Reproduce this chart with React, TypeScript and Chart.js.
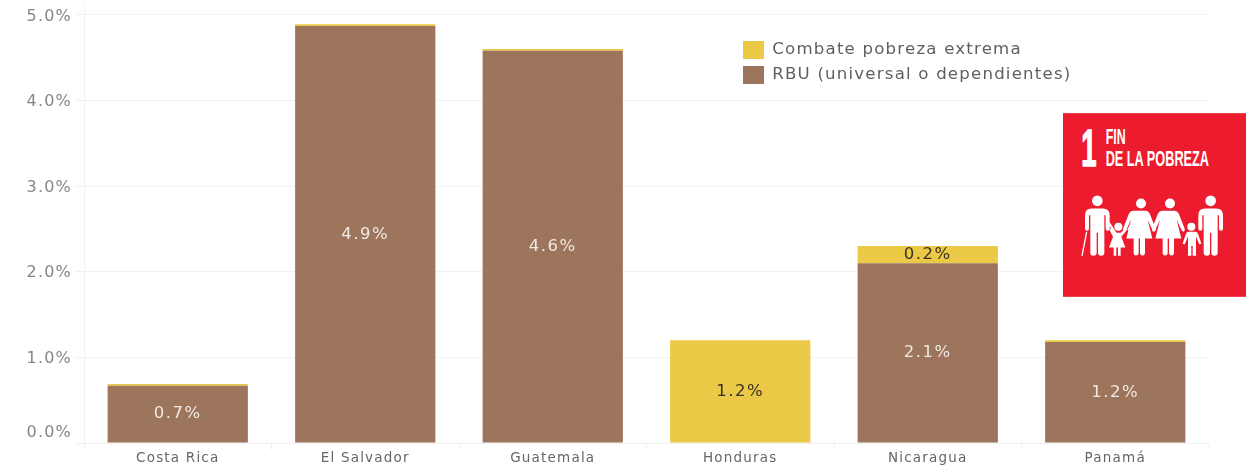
import React, { useEffect, useRef } from "react";
import { Chart, registerables } from "chart.js";

Chart.register(...registerables);

const countries = ["Costa Rica", "El Salvador", "Guatemala", "Honduras", "Nicaragua", "Panamá"];
const rbuValues = [0.67, 4.87, 4.58, 0, 2.1, 1.18];
const extremeValues = [0.02, 0.02, 0.02, 1.2, 0.2, 0.02];
const rbuLabel = "RBU (universal o dependientes)";
const extremeLabel = "Combate pobreza extrema";
const FONT = "'DejaVu Sans', sans-serif";

const spacing: any = {
  id: "spacing",
  beforeDraw(chart: any) {
    chart.ctx.letterSpacing = "1.2px";
  },
};

const moveLegend: any = {
  id: "moveLegend",
  afterLayout(chart: any) {
    const l = chart.legend;
    l.left = 736;
    l.top = 34;
    l.right = 736 + 400;
    l.bottom = 34 + 100;
  },
};

const barLabels: any = {
  id: "barLabels",
  afterDatasetsDraw(chart: any) {
    const ctx = chart.ctx;
    ctx.save();
    ctx.font = `16.5px ${FONT}`;
    ctx.letterSpacing = "1.5px";
    ctx.textAlign = "center";
    ctx.textBaseline = "middle";
    chart.data.datasets.forEach((ds: any, di: number) => {
      chart.getDatasetMeta(di).data.forEach((bar: any, i: number) => {
        const v = ds.data[i];
        if (v < 0.1) return;
        ctx.fillStyle = di === 1 ? "#3b3222" : "#efe9e4";
        ctx.fillText(v.toFixed(1) + "%", bar.x, (bar.y + bar.base) / 2);
      });
    });
    ctx.restore();
  },
};

function SdgTile() {
  const w = "#fff";
  const man = (x: number, cane: boolean) => (
    <g fill={w}>
      <circle cx={x} cy={302} r={16} />
      <path
        d={`M${x - 37} 345 q0 -20 20 -20 h34 q20 0 20 20 v40 q0 7 -6 7 q-6 0 -6 -7 v-40 h-4 v113 q0 9 -9.5 9 q-9.5 0 -9.5 -9 v-60 h-4 v60 q0 9 -9.5 9 q-9.5 0 -9.5 -9 v-113 h-4 v40 q0 7 -6 7 q-6 0 -6 -7 z`}
      />
      {cane ? <path d={`M${x - 32} 395 L${x - 46} 467`} stroke={w} strokeWidth={4} /> : null}
    </g>
  );
  const woman = (x: number) => (
    <g fill={w}>
      <circle cx={x} cy={310} r={15} />
      <path
        d={`M${x - 14} 332 h28 q8 0 12 8 l18 46 q2 7 -3 8 q-5 1 -7 -5 l-14 -30 l14 56 h-22 v42 q0 9 -7 9 q-8 0 -8 -9 v-42 h-4 v42 q0 9 -8 9 q-7 0 -7 -9 v-42 h-22 l14 -56 l-14 30 q-2 6 -7 5 q-5 -1 -3 -8 l18 -46 q4 -8 12 -8 z`}
      />
    </g>
  );
  return (
    <svg
      viewBox="39 39 549 551"
      width={183}
      height={184}
      style={{ position: "absolute", left: 1063, top: 113, display: "block" }}
    >
      <rect x={39} y={39} width={549} height={551} fill="#ec1c2e" />
      <text x={94} y={197} fill={w} stroke={w} strokeWidth={4} fontFamily="'Liberation Sans Narrow','Liberation Sans'" fontWeight="700" fontSize={155} textLength={46} lengthAdjust="spacingAndGlyphs">
        1
      </text>
      <text x={167} y={132} fill={w} fontFamily="'Liberation Sans Narrow','Liberation Sans'" fontWeight="700" fontSize={66} textLength={60} lengthAdjust="spacingAndGlyphs">
        FIN
      </text>
      <text x={167} y={197} fill={w} fontFamily="'Liberation Sans Narrow','Liberation Sans'" fontWeight="700" fontSize={66} textLength={310} lengthAdjust="spacingAndGlyphs">
        DE LA POBREZA
      </text>
      {man(142, true)}
      {man(482, false)}
      {woman(273)}
      {woman(360)}
      <g fill={w}>
        <circle cx={205} cy={380} r={12} />
        <path d="M178 388 l4 -4 l16 14 h14 l16 -14 l4 4 l-18 22 l12 32 h-14 v25 h-8 v-25 h-5 v25 h-8 v-25 h-14 l12 -32 z" />
        <circle cx={424} cy={380} r={12} />
        <path d="M412 395 h24 q6 0 8 6 l10 29 l-6 3 l-10 -24 v58 h-10 v-30 h-4 v30 h-10 v-58 l-10 24 l-6 -3 l10 -29 q2 -6 8 -6 z" />
        <path d="M175 372 l24 36 l5 -3 l-24 -38 z" />
        <path d="M232 388 l10 -18 l5 3 l-10 18 z" />
      </g>
    </svg>
  );
}

export default function App() {
  const ref = useRef<HTMLCanvasElement>(null);
  useEffect(() => {
    const chart = new Chart(ref.current as HTMLCanvasElement, {
      type: "bar",
      data: {
        labels: countries,
        datasets: [
          { label: rbuLabel, data: rbuValues, backgroundColor: "#9c755c", stack: "s" },
          { label: extremeLabel, data: extremeValues, backgroundColor: "#ebc845", stack: "s" },
        ],
      },
      plugins: [spacing, moveLegend, barLabels],
      options: {
        responsive: false,
        animation: false,
        layout: { padding: { top: 2, right: 37, left: 0, bottom: 0 } },
        datasets: { bar: { categoryPercentage: 1, barPercentage: 0.748 } },
        plugins: {
          tooltip: { enabled: false },
          legend: {
            position: "chartArea",
            align: "start",
            reverse: true,
            labels: {
              boxWidth: 21,
              boxHeight: 18,
              padding: 7,
              color: "#5f5f5f",
              font: { family: FONT, size: 16.6 },
            },
          },
        },
        scales: {
          x: {
            stacked: true,
            afterFit(s: any) {
              s.height = 22;
              s.paddingLeft = 0;
              s.paddingRight = 0;
            },
            grid: { drawOnChartArea: false, color: "#f0f0f0", tickLength: 7 },
            border: { color: "#efefef" },
            ticks: { color: "#666666", padding: 0, maxRotation: 0, font: { family: FONT, size: 13.5 } },
          },
          y: {
            stacked: true,
            min: 0,
            max: 5.15,
            afterFit(s: any) {
              s.width = 84;
              s.paddingTop = 0;
              s.paddingBottom = 0;
            },
            grid: { color: "#f2f2f2", tickLength: 9 },
            border: { color: "#f2f2f2" },
            ticks: {
              stepSize: 1,
              includeBounds: false,
              padding: 3,
              labelOffset: 1.5,
              color: "#868686",
              font: (c: any) => ({ family: FONT, size: 16, lineHeight: c.tick && c.tick.value === 0 ? 1.45 : 1.2 }),
              callback: (v: any) => (v === 0 ? [Number(v).toFixed(1) + "%", ""] : Number(v).toFixed(1) + "%"),
            },
          },
        },
      },
    } as any);
    return () => chart.destroy();
  }, []);
  return (
    <div style={{ position: "absolute", left: 0, top: 0, width: 1246, height: 465, overflow: "hidden", background: "#fff" }}>
      <canvas ref={ref} width={1246} height={465} style={{ display: "block" }} />
      <SdgTile />
    </div>
  );
}
